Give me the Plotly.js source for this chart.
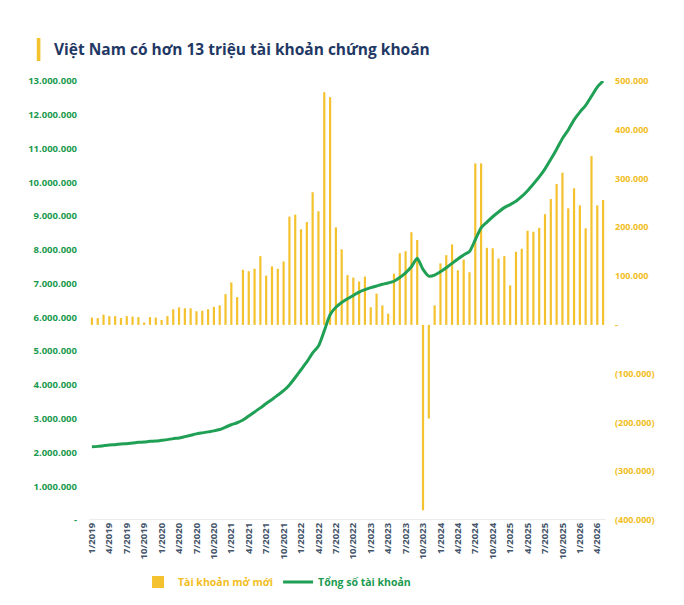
<!DOCTYPE html>
<html>
<head>
<meta charset="utf-8">
<script src="https://cdn.plot.ly/plotly-3.0.1.min.js"></script>
<style>html,body{margin:0;padding:0;background:#fff;}#chart{width:684px;height:605px;}</style>
</head>
<body>
<div id="chart"></div>
<script>
// Months 1/2019 .. 5/2026
const months = [
 "1/2019","2/2019","3/2019","4/2019","5/2019","6/2019","7/2019","8/2019","9/2019","10/2019","11/2019","12/2019",
 "1/2020","2/2020","3/2020","4/2020","5/2020","6/2020","7/2020","8/2020","9/2020","10/2020","11/2020","12/2020",
 "1/2021","2/2021","3/2021","4/2021","5/2021","6/2021","7/2021","8/2021","9/2021","10/2021","11/2021","12/2021",
 "1/2022","2/2022","3/2022","4/2022","5/2022","6/2022","7/2022","8/2022","9/2022","10/2022","11/2022","12/2022",
 "1/2023","2/2023","3/2023","4/2023","5/2023","6/2023","7/2023","8/2023","9/2023","10/2023","11/2023","12/2023",
 "1/2024","2/2024","3/2024","4/2024","5/2024","6/2024","7/2024","8/2024","9/2024","10/2024","11/2024","12/2024",
 "1/2025","2/2025","3/2025","4/2025","5/2025","6/2025","7/2025","8/2025","9/2025","10/2025","11/2025","12/2025",
 "1/2026","2/2026","3/2026","4/2026","5/2026"
];

// New accounts opened per month (right axis)
const newAccounts = [
 15000,14000,21000,18000,18000,14000,18000,17000,16000,5000,16000,15000,
 10000,18000,32000,36000,34000,34000,28000,29000,32000,37000,40000,63000,
 87000,57000,113000,110000,115000,141000,101000,120000,115000,130000,222000,226000,
 196000,211000,272000,233000,477000,467000,200000,155000,102000,97000,89000,99000,
 36000,64000,40000,23000,105000,147000,151000,190000,174000,-380000,-192000,40000,
 126000,143000,165000,112000,134000,108000,331000,331000,158000,157000,136000,141000,
 81000,150000,156000,193000,191000,199000,227000,258000,289000,312000,239000,280000,
 245000,198000,346000,245000,256000
];

// Total accounts (left axis)
const totalAccounts = [
 2170000,2180000,2200000,2220000,2230000,2250000,2260000,2280000,2300000,2310000,2330000,2340000,
 2360000,2380000,2410000,2430000,2470000,2510000,2550000,2580000,2610000,2640000,2680000,2750000,
 2820000,2880000,2960000,3080000,3200000,3320000,3450000,3570000,3700000,3830000,4000000,4220000,
 4450000,4680000,4950000,5150000,5600000,6080000,6300000,6440000,6550000,6650000,6750000,6820000,
 6880000,6930000,6980000,7020000,7070000,7180000,7320000,7500000,7750000,7420000,7220000,7250000,
 7350000,7470000,7600000,7730000,7850000,7950000,8300000,8650000,8820000,8980000,9120000,9250000,
 9340000,9440000,9580000,9750000,9950000,10160000,10400000,10680000,10980000,11300000,11550000,11850000,
 12080000,12280000,12550000,12820000,13000000
];

const xTicks = ["1/2019","4/2019","7/2019","10/2019","1/2020","4/2020","7/2020","10/2020",
 "1/2021","4/2021","7/2021","10/2021","1/2022","4/2022","7/2022","10/2022","1/2023","4/2023",
 "7/2023","10/2023","1/2024","4/2024","7/2024","10/2024","1/2025","4/2025","7/2025","10/2025",
 "1/2026","4/2026"];

const leftTickVals = [0,1000000,2000000,3000000,4000000,5000000,6000000,7000000,8000000,9000000,10000000,11000000,12000000,13000000];
const leftTickText = ["-","1.000.000","2.000.000","3.000.000","4.000.000","5.000.000","6.000.000","7.000.000","8.000.000","9.000.000","10.000.000","11.000.000","12.000.000","13.000.000"];
const rightTickVals = [-400000,-300000,-200000,-100000,0,100000,200000,300000,400000,500000];
const rightTickText = ["(400.000)","(300.000)","(200.000)","(100.000)","-","100.000","200.000","300.000","400.000","500.000"];

const GOLD = "#f5c22f";
const GREEN = "#1fa055";
const FONT = "Open Sans, sans-serif";

const traces = [
  {
    type: "bar", x: months, y: newAccounts, yaxis: "y", xaxis: "x",
    name: '<span style="color:#f2bd1d">Tài khoản mở mới</span>',
    marker: {color: GOLD}, hoverinfo: "skip"
  },
  {
    type: "scatter", mode: "lines", x: months, y: totalAccounts, yaxis: "y2", xaxis: "x",
    name: '<span style="color:#1a9a4e">Tổng số tài khoản</span>',
    line: {color: GREEN, width: 3, shape: "spline", smoothing: 0.6}, hoverinfo: "skip"
  }
];

const layout = {
  width: 684, height: 605,
  paper_bgcolor: "#fff", plot_bgcolor: "#fff",
  margin: {l: 89, r: 78, t: 81, b: 85, autoexpand: false},
  showlegend: true,
  legend: {orientation: "h", xref: "container", yref: "container", x: 0.405, xanchor: "center",
           y: 1 - 582 / 605, yanchor: "middle",
           font: {family: FONT, size: 10.5, weight: "bold"}, itemwidth: 30, tracegroupgap: 0,
           traceorder: "normal"},
  bargap: 0.62,
  xaxis: {
    type: "category", tickmode: "array", tickvals: xTicks, ticktext: xTicks,
    tickangle: -90, tickfont: {family: FONT, size: 9.5, color: "#44546a", weight: "bold"},
    showgrid: false, zeroline: false, showline: false, ticks: "",
    range: [-0.5, months.length - 0.5], fixedrange: true
  },
  yaxis: {
    side: "right", range: [-400000, 500000], tickmode: "array",
    tickvals: rightTickVals, ticktext: rightTickText,
    tickfont: {family: FONT, size: 9, color: "#f2bd1d", weight: "bold"},
    showgrid: false, zeroline: false, showline: false, ticks: "", ticklabelstandoff: 8
  },
  yaxis2: {
    overlaying: "y", side: "left", range: [0, 13000000], tickmode: "array",
    tickvals: leftTickVals, ticktext: leftTickText,
    tickfont: {family: FONT, size: 9.5, color: "#1a9a4e", weight: "bold"},
    showgrid: false, zeroline: false, showline: false, ticks: "", ticklabelstandoff: 11
  },
  annotations: [{
    xref: "paper", yref: "paper", x: -0.072, y: 1.0, xanchor: "left", yanchor: "middle",
    text: "Việt Nam có hơn 13 triệu tài khoản chứng khoán", showarrow: false,
    font: {family: FONT, size: 15.5, color: "#1f3864", weight: "bold"}
  }],
  shapes: [
    {type: "rect", xref: "paper", yref: "paper", x0: -0.101, x1: -0.094, y0: 1.0, y1: 1.0,
     line: {width: 0}, fillcolor: "#f5c22f"},
    {type: "line", xref: "paper", yref: "y2", x0: 0, x1: 1, y0: 0, y1: 0,
     line: {color: "#d9d9d9", width: 1}}
  ]
};
const plotH = 605 - 81 - 85;
layout.shapes[0].y0 = 1 + (81 - 61) / plotH;
layout.shapes[0].y1 = 1 + (81 - 38) / plotH;
layout.annotations[0].y = 1 + (81 - 49) / plotH;

Plotly.newPlot("chart", traces, layout, {staticPlot: true, displayModeBar: false});
</script>
</body>
</html>
